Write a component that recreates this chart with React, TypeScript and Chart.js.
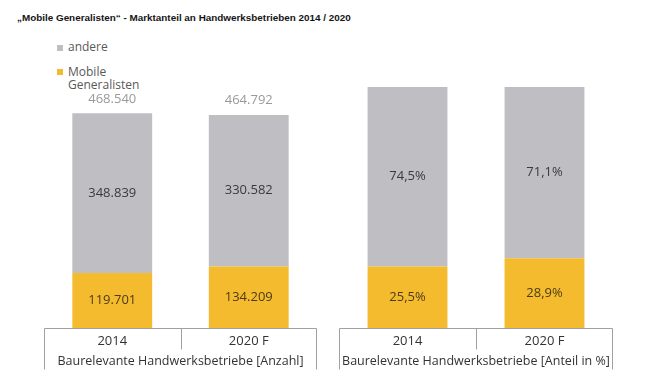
import React, { useEffect, useRef } from "react";
import { Chart, registerables } from "chart.js";

Chart.register(...registerables);

const TITLE = "„Mobile Generalisten“ - Marktanteil an Handwerksbetrieben 2014 / 2020";
const CATEGORIES = ["2014", "2020 F"];
const SERIES_NAMES = ["Mobile Generalisten", "andere"];
const COUNT_MOBILE = [119701, 134209];
const COUNT_OTHER = [348839, 330582];
const COUNT_TOTAL = [468540, 464792];
const SHARE_MOBILE = [25.5, 28.9];
const SHARE_OTHER = [74.5, 71.1];
const AXIS_TITLE_COUNT = "Baurelevante Handwerksbetriebe [Anzahl]";
const AXIS_TITLE_SHARE = "Baurelevante Handwerksbetriebe [Anteil in %]";
const COLORS = ["#F5BB2F", "#BFBEC3"];

const FONT = "'Open Sans', sans-serif";

const fmtCount = (v: number) => String(Math.round(v)).replace(/\B(?=(\d{3})+(?!\d))/g, ".");
const fmtShare = (v: number) => v.toFixed(1).replace(".", ",") + "%";

function makeLabelPlugin(format: (v: number) => string, totals: number[] | null) {
  return {
    id: "segLabels",
    afterDatasetsDraw(chart: any) {
      const ctx = chart.ctx;
      ctx.save();
      ctx.font = `13px ${FONT}`;
      ctx.textAlign = "center";
      ctx.textBaseline = "middle";
      chart.data.datasets.forEach((ds: any, di: number) => {
        const meta = chart.getDatasetMeta(di);
        meta.data.forEach((bar: any, i: number) => {
          const { x, y, base } = bar.getProps(["x", "y", "base"], true);
          ctx.fillStyle = di === 0 ? "#4a3c16" : "#3a3a3c";
          ctx.fillText(format(ds.data[i]), x, (y + base) / 2);
        });
      });
      if (totals) {
        const topMeta = chart.getDatasetMeta(chart.data.datasets.length - 1);
        topMeta.data.forEach((bar: any, i: number) => {
          const { x, y } = bar.getProps(["x", "y"], true);
          ctx.fillStyle = "#9a9a9a";
          ctx.fillText(format(totals[i]), x, y - 14.5);
        });
      }
      ctx.restore();
    },
  };
}

const boxPlugin = {
  id: "axisBox",
  afterDraw(chart: any) {
    const { ctx, chartArea } = chart;
    const xs = chart.scales.x;
    const left = Math.round(chartArea.left) + 0.5;
    const right = Math.round(chartArea.right) - 0.5;
    const yb = Math.round(chartArea.bottom) + 0.5;
    const mid = Math.round((xs.getPixelForValue(0) + xs.getPixelForValue(1)) / 2) + 0.5;
    ctx.save();
    ctx.strokeStyle = "#a0a0a0";
    ctx.lineWidth = 1;
    ctx.beginPath();
    ctx.moveTo(left, yb);
    ctx.lineTo(right, yb);
    ctx.moveTo(left, yb);
    ctx.lineTo(left, yb + 41);
    ctx.moveTo(right, yb);
    ctx.lineTo(right, yb + 41);
    ctx.moveTo(mid, yb);
    ctx.lineTo(mid, yb + 21);
    ctx.stroke();
    ctx.restore();
  },
};

function makeConfig(
  mobile: number[],
  other: number[],
  max: number,
  axisTitle: string,
  padding: any,
  barPct: number,
  format: (v: number) => string,
  totals: number[] | null
): any {
  return {
    type: "bar",
    data: {
      labels: CATEGORIES,
      datasets: [
        { label: SERIES_NAMES[0], data: mobile, backgroundColor: COLORS[0], categoryPercentage: 1, barPercentage: barPct },
        { label: SERIES_NAMES[1], data: other, backgroundColor: COLORS[1], categoryPercentage: 1, barPercentage: barPct },
      ],
    },
    options: {
      responsive: false,
      animation: false,
      devicePixelRatio: 1,
      layout: { padding },
      plugins: { legend: { display: false }, tooltip: { enabled: false } },
      scales: {
        x: {
          stacked: true,
          grid: { display: false, drawTicks: false },
          border: { display: false },
          ticks: { padding: 6, color: "#333333", maxRotation: 0, font: { family: FONT, size: 13 } },
          title: {
            display: true,
            text: axisTitle,
            color: "#333333",
            font: { family: FONT, size: 12.5, lineHeight: 1 },
            padding: { top: 0, bottom: 0 },
          },
        },
        y: { stacked: true, display: false, min: 0, max },
      },
    },
    plugins: [makeLabelPlugin(format, totals), boxPlugin],
  };
}

export default function App() {
  const leftRef = useRef<HTMLCanvasElement>(null);
  const rightRef = useRef<HTMLCanvasElement>(null);

  useEffect(() => {
    const c1 = new Chart(
      leftRef.current as HTMLCanvasElement,
      makeConfig(COUNT_MOBILE, COUNT_OTHER, 526000, AXIS_TITLE_COUNT, { top: 87, left: 44, right: 16, bottom: 23 }, 0.585, fmtCount, COUNT_TOTAL)
    );
    const c2 = new Chart(
      rightRef.current as HTMLCanvasElement,
      makeConfig(SHARE_MOBILE, SHARE_OTHER, 100, AXIS_TITLE_SHARE, { top: 87, left: 6, right: 53, bottom: 23 }, 0.583, fmtShare, null)
    );
    return () => {
      c1.destroy();
      c2.destroy();
    };
  }, []);

  const legendItems = [
    { name: SERIES_NAMES[1], color: COLORS[1], top: 40.3, sq: 44.5 },
    { name: SERIES_NAMES[0], color: COLORS[0], top: 65, sq: 69 },
  ];

  return (
    <div style={{ position: "absolute", left: 0, top: 0, width: 666, height: 391, background: "#ffffff", overflow: "hidden" }}>
      <div
        style={{
          position: "absolute",
          left: 17,
          top: 12,
          font: "bold 9.9px 'Liberation Sans', Arial, sans-serif",
          lineHeight: "12px",
          color: "#151515",
          whiteSpace: "nowrap",
        }}
      >
        {TITLE}
      </div>
      {legendItems.map((it) => (
        <React.Fragment key={it.name}>
          <div style={{ position: "absolute", left: 57, top: it.sq, width: 6, height: 6, background: it.color }} />
          <div
            style={{
              position: "absolute",
              left: 68,
              top: it.top,
              width: 78,
              font: `12px ${FONT}`,
              lineHeight: "13.4px",
              color: "#595959",
            }}
          >
            {it.name}
          </div>
        </React.Fragment>
      ))}
      <canvas ref={leftRef} width={333} height={391} style={{ position: "absolute", left: 0, top: 0, width: 333, height: 391 }} />
      <canvas ref={rightRef} width={333} height={391} style={{ position: "absolute", left: 333, top: 0, width: 333, height: 391 }} />
    </div>
  );
}
